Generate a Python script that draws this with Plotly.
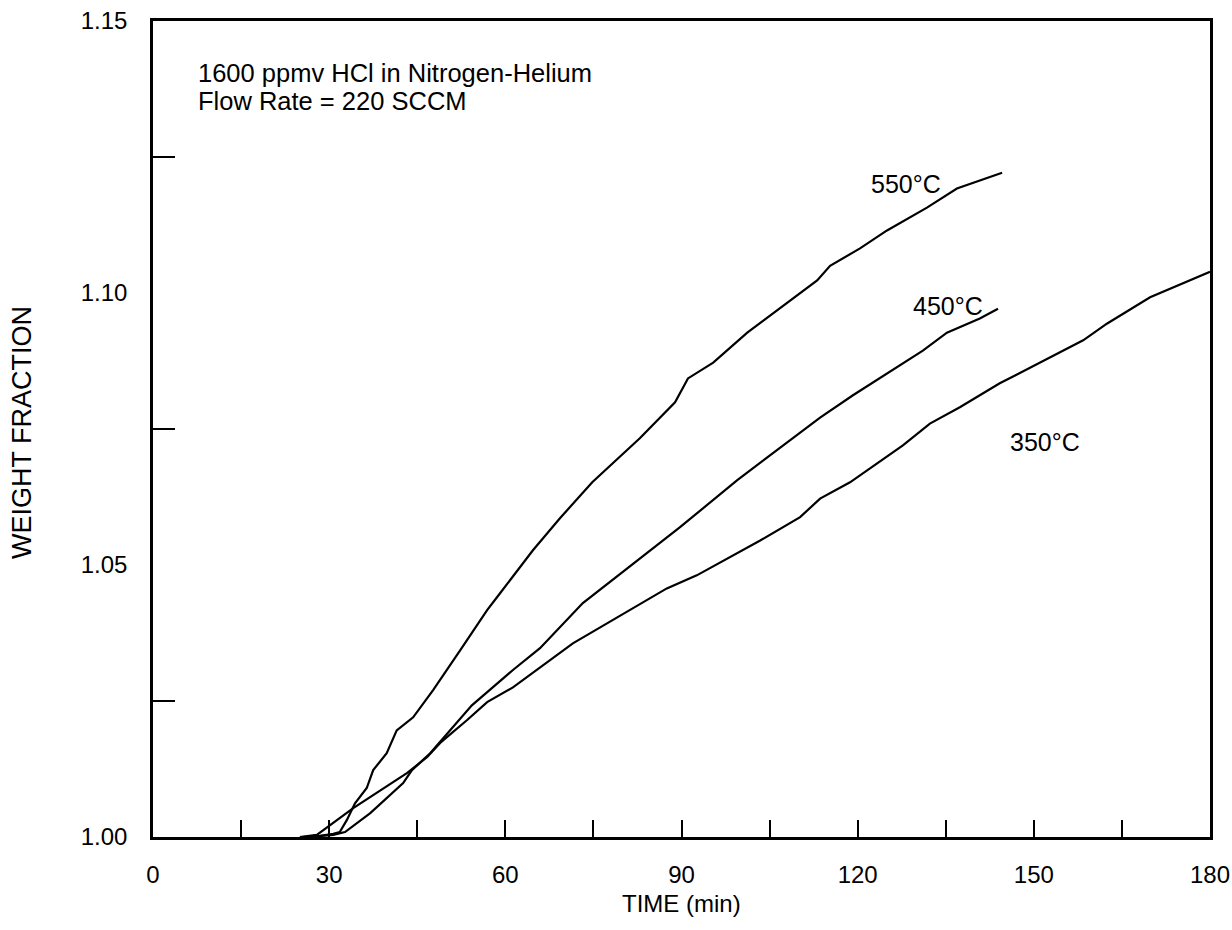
import plotly.graph_objects as go

# ---- data (time in min, weight fraction) ----
t_550 = [25.5, 28.4, 30.7, 31.8, 33.0, 34.4, 36.4, 37.5, 39.8, 41.5, 44.3, 47.7, 52.3, 56.9, 59.1,
         64.7, 69.3, 74.8, 82.9, 88.9, 91.1, 95.4, 101.2, 108.0, 113.1, 115.3, 120.4, 125.0,
         131.8, 136.9, 144.6]
w_550 = [1.0000, 1.0002, 1.0006, 1.0009, 1.0031, 1.0062, 1.0090, 1.0123, 1.0154, 1.0196, 1.0220,
         1.0270, 1.0343, 1.0417, 1.0448, 1.0527, 1.0586, 1.0652, 1.0733, 1.0799, 1.0843, 1.0872,
         1.0927, 1.0981, 1.1023, 1.1050, 1.1082, 1.1115, 1.1157, 1.1192, 1.1221]

t_450 = [26.7, 30.7, 32.7, 37.0, 42.6, 44.1, 47.2, 54.3, 61.3, 65.9, 73.2, 89.7, 99.5, 106.8,
         113.6, 119.2, 128.4, 131.1, 135.2, 140.8, 143.9]
w_450 = [1.0000, 1.0004, 1.0009, 1.0044, 1.0099, 1.0123, 1.0154, 1.0242, 1.0307, 1.0347, 1.0430,
         1.0569, 1.0656, 1.0716, 1.0771, 1.0812, 1.0876, 1.0894, 1.0927, 1.0953, 1.0971]

t_350 = [25.0, 27.9, 34.1, 43.3, 46.7, 48.9, 53.5, 56.9, 61.3, 65.9, 71.5, 87.5, 92.6, 103.4,
         110.2, 113.6, 118.7, 127.7, 132.3, 137.4, 144.2, 158.4, 162.5, 169.8, 180.0]
w_350 = [1.0000, 1.0004, 1.0053, 1.0118, 1.0147, 1.0173, 1.0215, 1.0248, 1.0275, 1.0312, 1.0356,
         1.0457, 1.0481, 1.0545, 1.0588, 1.0622, 1.0652, 1.0720, 1.0760, 1.0790, 1.0834, 1.0913,
         1.0944, 1.0992, 1.1039]

series = [("550°C", t_550, w_550), ("450°C", t_450, w_450), ("350°C", t_350, w_350)]
curve_labels = ["550°C", "450°C", "350°C"]
label_x = [128.2, 135.4, 151.9]
label_y = [1.1201, 1.0977, 1.0727]

x_ticks = [0, 30, 60, 90, 120, 150, 180]
y_ticks = [1.00, 1.05, 1.10, 1.15]
y_tick_text = ["1.00", "1.05", "1.10", "1.15"]
y_minor = [1.025, 1.075, 1.125]

FONT = "Liberation Sans, Arial, Helvetica, sans-serif"

fig = go.Figure()
for name, t, w in series:
    fig.add_trace(go.Scatter(x=t, y=w, mode="lines", name=name,
                             line=dict(color="black", width=2.2), showlegend=False))

for txt, lx, ly in zip(curve_labels, label_x, label_y):
    fig.add_annotation(x=lx, y=ly, text=txt, showarrow=False,
                       font=dict(family=FONT, size=25, color="black"))

fig.add_annotation(xref="paper", yref="paper", x=0.0405, y=0.936, xanchor="left", yanchor="middle",
                   text="1600 ppmv HCl in Nitrogen-Helium", showarrow=False,
                   font=dict(family=FONT, size=25.5, color="black"))
fig.add_annotation(xref="paper", yref="paper", x=0.0405, y=0.902, xanchor="left", yanchor="middle",
                   text="Flow Rate = 220 SCCM", showarrow=False,
                   font=dict(family=FONT, size=25.5, color="black"))

# axis titles
fig.add_annotation(xref="paper", yref="paper", x=0.5, y=0, yshift=-66, xanchor="center",
                   yanchor="middle", text="TIME (min)", showarrow=False,
                   font=dict(family=FONT, size=24, color="black"))
fig.add_annotation(xref="paper", yref="paper", x=0, xshift=-131, y=0.5, yshift=-4,
                   xanchor="center", yanchor="middle", textangle=-90,
                   text="WEIGHT FRACTION", showarrow=False,
                   font=dict(family=FONT, size=27, color="black"))

fig.update_layout(
    width=1232, height=930,
    margin=dict(l=153, r=22, t=21, b=93),
    paper_bgcolor="white", plot_bgcolor="white",
    font=dict(family=FONT, size=24, color="black"),
)
fig.update_xaxes(
    range=[0, 180], tickvals=x_ticks, ticks="inside", ticklen=17, tickwidth=2, tickcolor="black",
    minor=dict(dtick=15, tick0=0, ticks="inside", ticklen=17, tickwidth=2, tickcolor="black"),
    showline=True, linecolor="black", linewidth=2.5, mirror=True, showgrid=False, zeroline=False,
    ticklabelstandoff=14, automargin=False, ticklabeloverflow="allow",
    tickfont=dict(family=FONT, size=24),
)
fig.update_yaxes(
    range=[1.0, 1.15], tickvals=y_ticks, ticktext=y_tick_text, ticks="",
    minor=dict(tickvals=y_minor, ticks="inside", ticklen=22, tickwidth=2, tickcolor="black"),
    showline=True, linecolor="black", linewidth=2.5, mirror=True, showgrid=False, zeroline=False,
    ticklabelstandoff=18, automargin=False, ticklabeloverflow="allow",
    tickfont=dict(family=FONT, size=24),
)

# remove the default 8px page margin so the 1232x930 figure fills the window exactly
fig.write_html("out.html", config={"displayModeBar": False},
               post_script="document.body.style.margin='0';")
